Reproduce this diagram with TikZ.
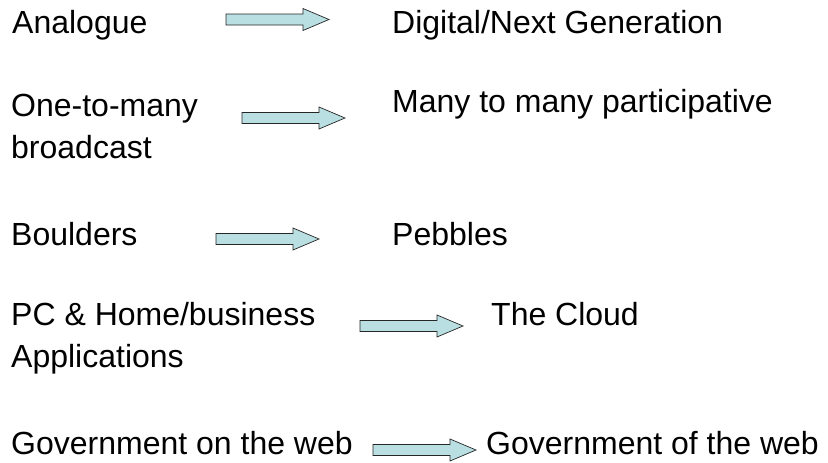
\documentclass[tikz,border=0pt]{standalone}
\usepackage{fontspec}
\setmainfont{Liberation Sans}

\definecolor{arrowfill}{RGB}{185,223,226}

\tikzset{
  lbl/.style={anchor=base west, inner sep=0pt, font=\fontsize{32}{38}\selectfont},
  arrowbody/.style={draw=black!85, fill=arrowfill, line width=0.7pt, line join=miter},
  pics/blockarrow/.style={code={
    \draw[arrowbody] (0,-5.5) -- (77,-5.5) -- (77,-11) -- (103,0)
      -- (77,11) -- (77,5.5) -- (0,5.5) -- cycle;
    \coordinate (-tail) at (0,0);
    \coordinate (-tip) at (103,0);
  }}
}

\begin{document}
\begin{tikzpicture}[x=1pt, y=-1pt]
\useasboundingbox (0,0) rectangle (828,463);

% Old side
\node[lbl] (analogue) at (12,34) {Analogue};
\node[lbl] (onemany) at (11,116) {One-to-many};
\node[lbl] (bcast) at (11,158) {broadcast};
\node[lbl] (boulders) at (11,245) {Boulders};
\node[lbl] (pchome) at (11,325) {PC \& Home/business};
\node[lbl] (apps) at (11,367) {Applications};
\node[lbl] (govon) at (11,454) {Government on the web};

% New side
\node[lbl] (digital) at (392,34) {Digital/Next Generation};
\node[lbl] (manymany) at (392,112) {Many to many participative};
\node[lbl] (pebbles) at (392,245) {Pebbles};
\node[lbl] (cloud) at (491,325) {The Cloud};
\node[lbl] (govof) at (486,454) {Government of the web};

% Arrows
\pic (a1) at (226,19.5) {blockarrow}; % analogue -> digital
\pic (a2) at (242,118) {blockarrow}; % one-to-many -> many to many
\pic (a3) at (216,239) {blockarrow}; % boulders -> pebbles
\pic (a4) at (360,326) {blockarrow}; % pc -> cloud
\pic (a5) at (373,450) {blockarrow}; % gov on -> gov of

\end{tikzpicture}
\end{document}
